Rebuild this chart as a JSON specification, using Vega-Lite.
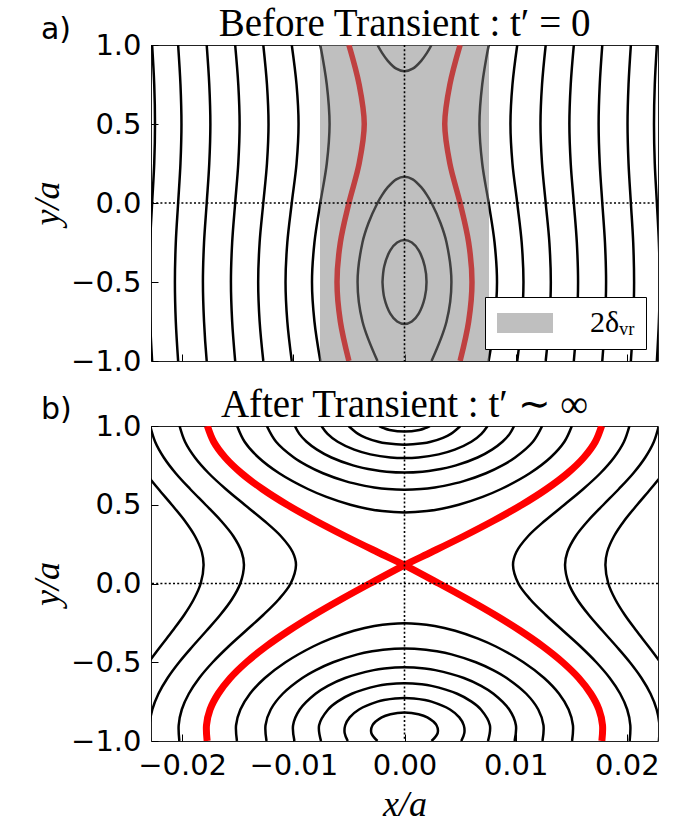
{
"$schema": "https://vega.github.io/schema/vega-lite/v6.json",
"padding": {"left": 29, "right": 10, "top": 4, "bottom": 2},
"spacing": 8,
"resolve": {"scale": {"fill": "independent"}, "legend": {"fill": "independent"}},
"config": {
 "view": {"stroke": "#222", "strokeWidth": 1},
 "axis": {"domain": false, "grid": false, "labelFont": "DejaVu Sans", "labelFontSize": 29, "labelColor": "black", "labelFlush": false, "labelOverlap": false, "tickColor": "black", "tickSize": -7, "tickWidth": 1, "labelPadding": 17, "titleFont": "Liberation Serif", "titleFontSize": 36, "titleFontStyle": "italic", "titleFontWeight": "normal", "titleColor": "black", "titlePadding": 4}
},
"datasets": {
"tk": [
{"g":"7l","x":-0.00757,"y":1},{"g":"7l","x":-0.00699,"y":0.75},{"g":"7l","x":-0.00674,"y":0.5},{"g":"7l","x":-0.00699,"y":0.25},{"g":"7l","x":-0.00757,"y":0},{"g":"7l","x":-0.0081,"y":-0.25},{"g":"7l","x":-0.00832,"y":-0.5},{"g":"7l","x":-0.0081,"y":-0.75},{"g":"7l","x":-0.00757,"y":-1},
{"g":"7r","x":0.00757,"y":1},{"g":"7r","x":0.00699,"y":0.75},{"g":"7r","x":0.00674,"y":0.5},{"g":"7r","x":0.00699,"y":0.25},{"g":"7r","x":0.00757,"y":0},{"g":"7r","x":0.0081,"y":-0.25},{"g":"7r","x":0.00832,"y":-0.5},{"g":"7r","x":0.0081,"y":-0.75},{"g":"7r","x":0.00757,"y":-1},
{"g":"6l","x":-0.01014,"y":1},{"g":"6l","x":-0.00971,"y":0.75},{"g":"6l","x":-0.00953,"y":0.5},{"g":"6l","x":-0.00971,"y":0.25},{"g":"6l","x":-0.01014,"y":0},{"g":"6l","x":-0.01054,"y":-0.25},{"g":"6l","x":-0.0107,"y":-0.5},{"g":"6l","x":-0.01054,"y":-0.75},{"g":"6l","x":-0.01014,"y":-1},
{"g":"6r","x":0.01014,"y":1},{"g":"6r","x":0.00971,"y":0.75},{"g":"6r","x":0.00953,"y":0.5},{"g":"6r","x":0.00971,"y":0.25},{"g":"6r","x":0.01014,"y":0},{"g":"6r","x":0.01054,"y":-0.25},{"g":"6r","x":0.0107,"y":-0.5},{"g":"6r","x":0.01054,"y":-0.75},{"g":"6r","x":0.01014,"y":-1},
{"g":"5l","x":-0.0127,"y":1},{"g":"5l","x":-0.01237,"y":0.75},{"g":"5l","x":-0.01223,"y":0.5},{"g":"5l","x":-0.01237,"y":0.25},{"g":"5l","x":-0.0127,"y":0},{"g":"5l","x":-0.01303,"y":-0.25},{"g":"5l","x":-0.01316,"y":-0.5},{"g":"5l","x":-0.01303,"y":-0.75},{"g":"5l","x":-0.0127,"y":-1},
{"g":"5r","x":0.0127,"y":1},{"g":"5r","x":0.01237,"y":0.75},{"g":"5r","x":0.01223,"y":0.5},{"g":"5r","x":0.01237,"y":0.25},{"g":"5r","x":0.0127,"y":0},{"g":"5r","x":0.01303,"y":-0.25},{"g":"5r","x":0.01316,"y":-0.5},{"g":"5r","x":0.01303,"y":-0.75},{"g":"5r","x":0.0127,"y":-1},
{"g":"4l","x":-0.01523,"y":1},{"g":"4l","x":-0.01495,"y":0.75},{"g":"4l","x":-0.01483,"y":0.5},{"g":"4l","x":-0.01495,"y":0.25},{"g":"4l","x":-0.01523,"y":0},{"g":"4l","x":-0.0155,"y":-0.25},{"g":"4l","x":-0.01561,"y":-0.5},{"g":"4l","x":-0.0155,"y":-0.75},{"g":"4l","x":-0.01523,"y":-1},
{"g":"4r","x":0.01523,"y":1},{"g":"4r","x":0.01495,"y":0.75},{"g":"4r","x":0.01483,"y":0.5},{"g":"4r","x":0.01495,"y":0.25},{"g":"4r","x":0.01523,"y":0},{"g":"4r","x":0.0155,"y":-0.25},{"g":"4r","x":0.01561,"y":-0.5},{"g":"4r","x":0.0155,"y":-0.75},{"g":"4r","x":0.01523,"y":-1},
{"g":"3l","x":-0.01779,"y":1},{"g":"3l","x":-0.01756,"y":0.75},{"g":"3l","x":-0.01746,"y":0.5},{"g":"3l","x":-0.01756,"y":0.25},{"g":"3l","x":-0.01779,"y":0},{"g":"3l","x":-0.01803,"y":-0.25},{"g":"3l","x":-0.01813,"y":-0.5},{"g":"3l","x":-0.01803,"y":-0.75},{"g":"3l","x":-0.01779,"y":-1},
{"g":"3r","x":0.01779,"y":1},{"g":"3r","x":0.01756,"y":0.75},{"g":"3r","x":0.01746,"y":0.5},{"g":"3r","x":0.01756,"y":0.25},{"g":"3r","x":0.01779,"y":0},{"g":"3r","x":0.01803,"y":-0.25},{"g":"3r","x":0.01813,"y":-0.5},{"g":"3r","x":0.01803,"y":-0.75},{"g":"3r","x":0.01779,"y":-1},
{"g":"2l","x":-0.02036,"y":1},{"g":"2l","x":-0.02015,"y":0.75},{"g":"2l","x":-0.02006,"y":0.5},{"g":"2l","x":-0.02015,"y":0.25},{"g":"2l","x":-0.02036,"y":0},{"g":"2l","x":-0.02057,"y":-0.25},{"g":"2l","x":-0.02065,"y":-0.5},{"g":"2l","x":-0.02057,"y":-0.75},{"g":"2l","x":-0.02036,"y":-1},
{"g":"2r","x":0.02036,"y":1},{"g":"2r","x":0.02015,"y":0.75},{"g":"2r","x":0.02006,"y":0.5},{"g":"2r","x":0.02015,"y":0.25},{"g":"2r","x":0.02036,"y":0},{"g":"2r","x":0.02057,"y":-0.25},{"g":"2r","x":0.02065,"y":-0.5},{"g":"2r","x":0.02057,"y":-0.75},{"g":"2r","x":0.02036,"y":-1},
{"g":"1l","x":-0.0227,"y":1},{"g":"1l","x":-0.02251,"y":0.75},{"g":"1l","x":-0.02244,"y":0.5},{"g":"1l","x":-0.02251,"y":0.25},{"g":"1l","x":-0.0227,"y":0},{"g":"1l","x":-0.02288,"y":-0.25},{"g":"1l","x":-0.02296,"y":-0.5},{"g":"1l","x":-0.02288,"y":-0.75},{"g":"1l","x":-0.0227,"y":-1},
{"g":"1r","x":0.0227,"y":1},{"g":"1r","x":0.02251,"y":0.75},{"g":"1r","x":0.02244,"y":0.5},{"g":"1r","x":0.02251,"y":0.25},{"g":"1r","x":0.0227,"y":0},{"g":"1r","x":0.02288,"y":-0.25},{"g":"1r","x":0.02296,"y":-0.5},{"g":"1r","x":0.02288,"y":-0.75},{"g":"1r","x":0.0227,"y":-1},
{"g":"i1","x":-0.00243,"y":-1},{"g":"i1","x":-0.00378,"y":-0.75},{"g":"i1","x":-0.00422,"y":-0.5},{"g":"i1","x":-0.00378,"y":-0.25},{"g":"i1","x":-0.00323,"y":-0.125},{"g":"i1","x":-0.00243,"y":0},{"g":"i1","x":-0.00202,"y":0.05},{"g":"i1","x":-0.0015,"y":0.1},{"g":"i1","x":-0.00074,"y":0.15},{"g":"i1","x":0,"y":0.1667},{"g":"i1","x":0.00074,"y":0.15},{"g":"i1","x":0.0015,"y":0.1},{"g":"i1","x":0.00202,"y":0.05},{"g":"i1","x":0.00243,"y":0},{"g":"i1","x":0.00323,"y":-0.125},{"g":"i1","x":0.00378,"y":-0.25},{"g":"i1","x":0.00422,"y":-0.5},{"g":"i1","x":0.00378,"y":-0.75},{"g":"i1","x":0.00243,"y":-1},
{"g":"i2","x":-0.00243,"y":1},{"g":"i2","x":-0.00202,"y":0.95},{"g":"i2","x":-0.0015,"y":0.9},{"g":"i2","x":-0.00074,"y":0.85},{"g":"i2","x":0,"y":0.8333},{"g":"i2","x":0.00074,"y":0.85},{"g":"i2","x":0.0015,"y":0.9},{"g":"i2","x":0.00202,"y":0.95},{"g":"i2","x":0.00243,"y":1},
{"g":"i3","x":-0.00198,"y":-0.5},{"g":"i3","x":-0.00182,"y":-0.6},{"g":"i3","x":-0.00128,"y":-0.7},{"g":"i3","x":-0.00066,"y":-0.75},{"g":"i3","x":0,"y":-0.766},{"g":"i3","x":0.00066,"y":-0.75},{"g":"i3","x":0.00128,"y":-0.7},{"g":"i3","x":0.00182,"y":-0.6},{"g":"i3","x":0.00198,"y":-0.5},{"g":"i3","x":0.00182,"y":-0.4},{"g":"i3","x":0.00128,"y":-0.3},{"g":"i3","x":0.00066,"y":-0.25},{"g":"i3","x":0,"y":-0.234},{"g":"i3","x":-0.00066,"y":-0.25},{"g":"i3","x":-0.00128,"y":-0.3},{"g":"i3","x":-0.00182,"y":-0.4},{"g":"i3","x":-0.00198,"y":-0.5}
],
"tr": [
{"g":"rl","x":-0.005,"y":1},{"g":"rl","x":-0.00408,"y":0.75},{"g":"rl","x":-0.00362,"y":0.5},{"g":"rl","x":-0.00408,"y":0.25},{"g":"rl","x":-0.005,"y":0},{"g":"rl","x":-0.00577,"y":-0.25},{"g":"rl","x":-0.00607,"y":-0.5},{"g":"rl","x":-0.00577,"y":-0.75},{"g":"rl","x":-0.005,"y":-1},
{"g":"rr","x":0.005,"y":1},{"g":"rr","x":0.00408,"y":0.75},{"g":"rr","x":0.00362,"y":0.5},{"g":"rr","x":0.00408,"y":0.25},{"g":"rr","x":0.005,"y":0},{"g":"rr","x":0.00577,"y":-0.25},{"g":"rr","x":0.00607,"y":-0.5},{"g":"rr","x":0.00577,"y":-0.75},{"g":"rr","x":0.005,"y":-1}
],
"bk": [
{"g":"t1","x":-0.01505,"y":1},{"g":"t1","x":-0.01438,"y":0.9},{"g":"t1","x":-0.01313,"y":0.8},{"g":"t1","x":-0.01127,"y":0.7},{"g":"t1","x":-0.00869,"y":0.6},{"g":"t1","x":-0.00702,"y":0.55},{"g":"t1","x":-0.00487,"y":0.5},{"g":"t1","x":-0.00335,"y":0.475},{"g":"t1","x":-0.00201,"y":0.46},{"g":"t1","x":0,"y":0.4515},{"g":"t1","x":0.00201,"y":0.46},{"g":"t1","x":0.00335,"y":0.475},{"g":"t1","x":0.00487,"y":0.5},{"g":"t1","x":0.00702,"y":0.55},{"g":"t1","x":0.00869,"y":0.6},{"g":"t1","x":0.01127,"y":0.7},{"g":"t1","x":0.01313,"y":0.8},{"g":"t1","x":0.01438,"y":0.9},{"g":"t1","x":0.01505,"y":1},
{"g":"t2","x":-0.01238,"y":1},{"g":"t2","x":-0.01155,"y":0.9},{"g":"t2","x":-0.00995,"y":0.8},{"g":"t2","x":-0.0088,"y":0.75},{"g":"t2","x":-0.00733,"y":0.7},{"g":"t2","x":-0.00532,"y":0.65},{"g":"t2","x":-0.00356,"y":0.62},{"g":"t2","x":-0.00273,"y":0.61},{"g":"t2","x":-0.00148,"y":0.6},{"g":"t2","x":0,"y":0.5958},{"g":"t2","x":0.00148,"y":0.6},{"g":"t2","x":0.00273,"y":0.61},{"g":"t2","x":0.00356,"y":0.62},{"g":"t2","x":0.00532,"y":0.65},{"g":"t2","x":0.00733,"y":0.7},{"g":"t2","x":0.0088,"y":0.75},{"g":"t2","x":0.00995,"y":0.8},{"g":"t2","x":0.01155,"y":0.9},{"g":"t2","x":0.01238,"y":1},
{"g":"t3","x":-0.00986,"y":1},{"g":"t3","x":-0.00946,"y":0.95},{"g":"t3","x":-0.00881,"y":0.9},{"g":"t3","x":-0.00787,"y":0.85},{"g":"t3","x":-0.00657,"y":0.8},{"g":"t3","x":-0.00463,"y":0.75},{"g":"t3","x":-0.00272,"y":0.72},{"g":"t3","x":-0.00161,"y":0.71},{"g":"t3","x":0,"y":0.7047},{"g":"t3","x":0.00161,"y":0.71},{"g":"t3","x":0.00272,"y":0.72},{"g":"t3","x":0.00463,"y":0.75},{"g":"t3","x":0.00657,"y":0.8},{"g":"t3","x":0.00787,"y":0.85},{"g":"t3","x":0.00881,"y":0.9},{"g":"t3","x":0.00946,"y":0.95},{"g":"t3","x":0.00986,"y":1},
{"g":"t4","x":-0.00747,"y":1},{"g":"t4","x":-0.00692,"y":0.95},{"g":"t4","x":-0.00601,"y":0.9},{"g":"t4","x":-0.00452,"y":0.85},{"g":"t4","x":-0.00307,"y":0.82},{"g":"t4","x":-0.00125,"y":0.8},{"g":"t4","x":0,"y":0.7962},{"g":"t4","x":0.00125,"y":0.8},{"g":"t4","x":0.00307,"y":0.82},{"g":"t4","x":0.00452,"y":0.85},{"g":"t4","x":0.00601,"y":0.9},{"g":"t4","x":0.00692,"y":0.95},{"g":"t4","x":0.00747,"y":1},
{"g":"t5","x":-0.00503,"y":1},{"g":"t5","x":-0.00417,"y":0.95},{"g":"t5","x":-0.00346,"y":0.925},{"g":"t5","x":-0.00236,"y":0.9},{"g":"t5","x":-0.00163,"y":0.89},{"g":"t5","x":0,"y":0.881},{"g":"t5","x":0.00163,"y":0.89},{"g":"t5","x":0.00236,"y":0.9},{"g":"t5","x":0.00346,"y":0.925},{"g":"t5","x":0.00417,"y":0.95},{"g":"t5","x":0.00503,"y":1},
{"g":"t6","x":-0.00228,"y":1},{"g":"t6","x":-0.0018,"y":0.985},{"g":"t6","x":-0.00134,"y":0.975},{"g":"t6","x":0,"y":0.9643},{"g":"t6","x":0.00134,"y":0.975},{"g":"t6","x":0.0018,"y":0.985},{"g":"t6","x":0.00228,"y":1},
{"g":"b1","x":-0.01507,"y":-1},{"g":"b1","x":-0.01515,"y":-0.9},{"g":"b1","x":-0.01476,"y":-0.8},{"g":"b1","x":-0.0139,"y":-0.7},{"g":"b1","x":-0.01256,"y":-0.6},{"g":"b1","x":-0.0107,"y":-0.5},{"g":"b1","x":-0.00822,"y":-0.4},{"g":"b1","x":-0.00662,"y":-0.35},{"g":"b1","x":-0.00456,"y":-0.3},{"g":"b1","x":-0.00272,"y":-0.27},{"g":"b1","x":0,"y":-0.2527},{"g":"b1","x":0.00272,"y":-0.27},{"g":"b1","x":0.00456,"y":-0.3},{"g":"b1","x":0.00662,"y":-0.35},{"g":"b1","x":0.00822,"y":-0.4},{"g":"b1","x":0.0107,"y":-0.5},{"g":"b1","x":0.01256,"y":-0.6},{"g":"b1","x":0.0139,"y":-0.7},{"g":"b1","x":0.01476,"y":-0.8},{"g":"b1","x":0.01515,"y":-0.9},{"g":"b1","x":0.01507,"y":-1},
{"g":"b2","x":-0.01241,"y":-1},{"g":"b2","x":-0.0125,"y":-0.9},{"g":"b2","x":-0.01203,"y":-0.8},{"g":"b2","x":-0.01095,"y":-0.7},{"g":"b2","x":-0.00919,"y":-0.6},{"g":"b2","x":-0.00797,"y":-0.55},{"g":"b2","x":-0.00642,"y":-0.5},{"g":"b2","x":-0.00423,"y":-0.45},{"g":"b2","x":-0.00291,"y":-0.43},{"g":"b2","x":-0.00193,"y":-0.42},{"g":"b2","x":0,"y":-0.4122},{"g":"b2","x":0.00193,"y":-0.42},{"g":"b2","x":0.00291,"y":-0.43},{"g":"b2","x":0.00423,"y":-0.45},{"g":"b2","x":0.00642,"y":-0.5},{"g":"b2","x":0.00797,"y":-0.55},{"g":"b2","x":0.00919,"y":-0.6},{"g":"b2","x":0.01095,"y":-0.7},{"g":"b2","x":0.01203,"y":-0.8},{"g":"b2","x":0.0125,"y":-0.9},{"g":"b2","x":0.01241,"y":-1},
{"g":"b3","x":-0.0099,"y":-1},{"g":"b3","x":-0.01002,"y":-0.9},{"g":"b3","x":-0.00942,"y":-0.8},{"g":"b3","x":-0.008,"y":-0.7},{"g":"b3","x":-0.00689,"y":-0.65},{"g":"b3","x":-0.00534,"y":-0.6},{"g":"b3","x":-0.00277,"y":-0.55},{"g":"b3","x":-0.00182,"y":-0.54},{"g":"b3","x":0,"y":-0.5325},{"g":"b3","x":0.00182,"y":-0.54},{"g":"b3","x":0.00277,"y":-0.55},{"g":"b3","x":0.00534,"y":-0.6},{"g":"b3","x":0.00689,"y":-0.65},{"g":"b3","x":0.008,"y":-0.7},{"g":"b3","x":0.00942,"y":-0.8},{"g":"b3","x":0.01002,"y":-0.9},{"g":"b3","x":0.0099,"y":-1},
{"g":"b4","x":-0.00751,"y":-1},{"g":"b4","x":-0.00768,"y":-0.9},{"g":"b4","x":-0.00687,"y":-0.8},{"g":"b4","x":-0.00603,"y":-0.75},{"g":"b4","x":-0.00474,"y":-0.7},{"g":"b4","x":-0.00244,"y":-0.65},{"g":"b4","x":-0.00153,"y":-0.64},{"g":"b4","x":0,"y":-0.6337},{"g":"b4","x":0.00153,"y":-0.64},{"g":"b4","x":0.00244,"y":-0.65},{"g":"b4","x":0.00474,"y":-0.7},{"g":"b4","x":0.00603,"y":-0.75},{"g":"b4","x":0.00687,"y":-0.8},{"g":"b4","x":0.00768,"y":-0.9},{"g":"b4","x":0.00751,"y":-1},
{"g":"b5","x":-0.0051,"y":-1},{"g":"b5","x":-0.00538,"y":-0.95},{"g":"b5","x":-0.00533,"y":-0.9},{"g":"b5","x":-0.00493,"y":-0.85},{"g":"b5","x":-0.00409,"y":-0.8},{"g":"b5","x":-0.00243,"y":-0.75},{"g":"b5","x":-0.00184,"y":-0.74},{"g":"b5","x":0,"y":-0.7274},{"g":"b5","x":0.00184,"y":-0.74},{"g":"b5","x":0.00243,"y":-0.75},{"g":"b5","x":0.00409,"y":-0.8},{"g":"b5","x":0.00493,"y":-0.85},{"g":"b5","x":0.00533,"y":-0.9},{"g":"b5","x":0.00538,"y":-0.95},{"g":"b5","x":0.0051,"y":-1},
{"g":"b6","x":-0.00243,"y":-1},{"g":"b6","x":-0.00298,"y":-0.95},{"g":"b6","x":-0.00288,"y":-0.9},{"g":"b6","x":-0.00205,"y":-0.85},{"g":"b6","x":-0.00126,"y":-0.83},{"g":"b6","x":0,"y":-0.8195},{"g":"b6","x":0.00126,"y":-0.83},{"g":"b6","x":0.00205,"y":-0.85},{"g":"b6","x":0.00288,"y":-0.9},{"g":"b6","x":0.00298,"y":-0.95},{"g":"b6","x":0.00243,"y":-1},
{"g":"o1l","x":-0.02023,"y":1},{"g":"o1l","x":-0.01974,"y":0.9},{"g":"o1l","x":-0.01885,"y":0.8},{"g":"o1l","x":-0.01761,"y":0.7},{"g":"o1l","x":-0.01608,"y":0.6},{"g":"o1l","x":-0.01438,"y":0.5},{"g":"o1l","x":-0.01265,"y":0.4},{"g":"o1l","x":-0.01111,"y":0.3},{"g":"o1l","x":-0.01006,"y":0.2},{"g":"o1l","x":-0.00976,"y":0.117},{"g":"o1l","x":-0.01024,"y":0},{"g":"o1l","x":-0.0113,"y":-0.1},{"g":"o1l","x":-0.01271,"y":-0.2},{"g":"o1l","x":-0.01427,"y":-0.3},{"g":"o1l","x":-0.01583,"y":-0.4},{"g":"o1l","x":-0.01725,"y":-0.5},{"g":"o1l","x":-0.01846,"y":-0.6},{"g":"o1l","x":-0.0194,"y":-0.7},{"g":"o1l","x":-0.02003,"y":-0.8},{"g":"o1l","x":-0.02031,"y":-0.9},{"g":"o1l","x":-0.02025,"y":-1},
{"g":"o1r","x":0.02023,"y":1},{"g":"o1r","x":0.01974,"y":0.9},{"g":"o1r","x":0.01885,"y":0.8},{"g":"o1r","x":0.01761,"y":0.7},{"g":"o1r","x":0.01608,"y":0.6},{"g":"o1r","x":0.01438,"y":0.5},{"g":"o1r","x":0.01265,"y":0.4},{"g":"o1r","x":0.01111,"y":0.3},{"g":"o1r","x":0.01006,"y":0.2},{"g":"o1r","x":0.00976,"y":0.117},{"g":"o1r","x":0.01024,"y":0},{"g":"o1r","x":0.0113,"y":-0.1},{"g":"o1r","x":0.01271,"y":-0.2},{"g":"o1r","x":0.01427,"y":-0.3},{"g":"o1r","x":0.01583,"y":-0.4},{"g":"o1r","x":0.01725,"y":-0.5},{"g":"o1r","x":0.01846,"y":-0.6},{"g":"o1r","x":0.0194,"y":-0.7},{"g":"o1r","x":0.02003,"y":-0.8},{"g":"o1r","x":0.02031,"y":-0.9},{"g":"o1r","x":0.02025,"y":-1},
{"g":"o2l","x":-0.02287,"y":1},{"g":"o2l","x":-0.02243,"y":0.9},{"g":"o2l","x":-0.02165,"y":0.8},{"g":"o2l","x":-0.02058,"y":0.7},{"g":"o2l","x":-0.01928,"y":0.6},{"g":"o2l","x":-0.01789,"y":0.5},{"g":"o2l","x":-0.01653,"y":0.4},{"g":"o2l","x":-0.01539,"y":0.3},{"g":"o2l","x":-0.01465,"y":0.2},{"g":"o2l","x":-0.01444,"y":0.117},{"g":"o2l","x":-0.01477,"y":0},{"g":"o2l","x":-0.01552,"y":-0.1},{"g":"o2l","x":-0.01658,"y":-0.2},{"g":"o2l","x":-0.01781,"y":-0.3},{"g":"o2l","x":-0.01907,"y":-0.4},{"g":"o2l","x":-0.02027,"y":-0.5},{"g":"o2l","x":-0.02131,"y":-0.6},{"g":"o2l","x":-0.02213,"y":-0.7},{"g":"o2l","x":-0.02268,"y":-0.8},{"g":"o2l","x":-0.02293,"y":-0.9},{"g":"o2l","x":-0.02288,"y":-1},
{"g":"o2r","x":0.02287,"y":1},{"g":"o2r","x":0.02243,"y":0.9},{"g":"o2r","x":0.02165,"y":0.8},{"g":"o2r","x":0.02058,"y":0.7},{"g":"o2r","x":0.01928,"y":0.6},{"g":"o2r","x":0.01789,"y":0.5},{"g":"o2r","x":0.01653,"y":0.4},{"g":"o2r","x":0.01539,"y":0.3},{"g":"o2r","x":0.01465,"y":0.2},{"g":"o2r","x":0.01444,"y":0.117},{"g":"o2r","x":0.01477,"y":0},{"g":"o2r","x":0.01552,"y":-0.1},{"g":"o2r","x":0.01658,"y":-0.2},{"g":"o2r","x":0.01781,"y":-0.3},{"g":"o2r","x":0.01907,"y":-0.4},{"g":"o2r","x":0.02027,"y":-0.5},{"g":"o2r","x":0.02131,"y":-0.6},{"g":"o2r","x":0.02213,"y":-0.7},{"g":"o2r","x":0.02268,"y":-0.8},{"g":"o2r","x":0.02293,"y":-0.9},{"g":"o2r","x":0.02288,"y":-1},
{"g":"o3l","x":-0.02422,"y":0.8},{"g":"o3l","x":-0.02327,"y":0.7},{"g":"o3l","x":-0.02213,"y":0.6},{"g":"o3l","x":-0.02093,"y":0.5},{"g":"o3l","x":-0.01978,"y":0.4},{"g":"o3l","x":-0.01884,"y":0.3},{"g":"o3l","x":-0.01823,"y":0.2},{"g":"o3l","x":-0.01807,"y":0.117},{"g":"o3l","x":-0.01833,"y":0},{"g":"o3l","x":-0.01895,"y":-0.1},{"g":"o3l","x":-0.01982,"y":-0.2},{"g":"o3l","x":-0.02086,"y":-0.3},{"g":"o3l","x":-0.02195,"y":-0.4},{"g":"o3l","x":-0.023,"y":-0.5},{"g":"o3l","x":-0.02392,"y":-0.6},
{"g":"o3r","x":0.02422,"y":0.8},{"g":"o3r","x":0.02327,"y":0.7},{"g":"o3r","x":0.02213,"y":0.6},{"g":"o3r","x":0.02093,"y":0.5},{"g":"o3r","x":0.01978,"y":0.4},{"g":"o3r","x":0.01884,"y":0.3},{"g":"o3r","x":0.01823,"y":0.2},{"g":"o3r","x":0.01807,"y":0.117},{"g":"o3r","x":0.01833,"y":0},{"g":"o3r","x":0.01895,"y":-0.1},{"g":"o3r","x":0.01982,"y":-0.2},{"g":"o3r","x":0.02086,"y":-0.3},{"g":"o3r","x":0.02195,"y":-0.4},{"g":"o3r","x":0.023,"y":-0.5},{"g":"o3r","x":0.02392,"y":-0.6}
],
"br": [
{"g":"R1","x":-0.01773,"y":1},{"g":"R1","x":-0.01716,"y":0.9},{"g":"R1","x":-0.01613,"y":0.8},{"g":"R1","x":-0.01466,"y":0.7},{"g":"R1","x":-0.01278,"y":0.6},{"g":"R1","x":-0.01056,"y":0.5},{"g":"R1","x":-0.00804,"y":0.4},{"g":"R1","x":-0.00532,"y":0.3},{"g":"R1","x":-0.00244,"y":0.2},{"g":"R1","x":0,"y":0.117},{"g":"R1","x":0.00311,"y":0},{"g":"R1","x":0.00569,"y":-0.1},{"g":"R1","x":0.00815,"y":-0.2},{"g":"R1","x":0.01042,"y":-0.3},{"g":"R1","x":0.01246,"y":-0.4},{"g":"R1","x":0.01422,"y":-0.5},{"g":"R1","x":0.01567,"y":-0.6},{"g":"R1","x":0.01676,"y":-0.7},{"g":"R1","x":0.01749,"y":-0.8},{"g":"R1","x":0.01781,"y":-0.9},{"g":"R1","x":0.01775,"y":-1},
{"g":"R2","x":0.01773,"y":1},{"g":"R2","x":0.01716,"y":0.9},{"g":"R2","x":0.01613,"y":0.8},{"g":"R2","x":0.01466,"y":0.7},{"g":"R2","x":0.01278,"y":0.6},{"g":"R2","x":0.01056,"y":0.5},{"g":"R2","x":0.00804,"y":0.4},{"g":"R2","x":0.00532,"y":0.3},{"g":"R2","x":0.00244,"y":0.2},{"g":"R2","x":0,"y":0.117},{"g":"R2","x":-0.00311,"y":0},{"g":"R2","x":-0.00569,"y":-0.1},{"g":"R2","x":-0.00815,"y":-0.2},{"g":"R2","x":-0.01042,"y":-0.3},{"g":"R2","x":-0.01246,"y":-0.4},{"g":"R2","x":-0.01422,"y":-0.5},{"g":"R2","x":-0.01567,"y":-0.6},{"g":"R2","x":-0.01676,"y":-0.7},{"g":"R2","x":-0.01749,"y":-0.8},{"g":"R2","x":-0.01781,"y":-0.9},{"g":"R2","x":-0.01775,"y":-1}
]
},
"vconcat": [
{
 "width": 507, "height": 316,
 "layer": [
  {"data": {"name": "tk"}, "mark": {"type": "line", "interpolate": "catmull-rom", "clip": true, "color": "black", "strokeWidth": 2.5},
   "encoding": {
    "x": {"field": "x", "type": "quantitative", "scale": {"domain": [-0.0228, 0.0228], "nice": false, "zero": false}, "axis": {"values": [-0.02, -0.01, 0, 0.01, 0.02], "labels": false, "title": null}},
    "y": {"field": "y", "type": "quantitative", "scale": {"domain": [-1, 1], "nice": false, "zero": false}, "axis": {"values": [-1, -0.5, 0, 0.5, 1], "format": ".1f", "title": "y/a"}},
    "detail": {"field": "g", "type": "nominal"}, "order": {"value": null}}},
  {"data": {"name": "tr"}, "mark": {"type": "line", "interpolate": "catmull-rom", "clip": true, "color": "#ff0000", "strokeWidth": 5.5},
   "encoding": {
    "x": {"field": "x", "type": "quantitative", "axis": {"values": [-0.02, -0.01, 0, 0.01, 0.02], "labels": false, "title": null}},
    "y": {"field": "y", "type": "quantitative", "axis": {"values": [-1, -0.5, 0, 0.5, 1], "format": ".1f", "title": "y/a"}},
    "detail": {"field": "g", "type": "nominal"}, "order": {"value": null}}},
  {"data": {"values": [{"x": -0.0076, "xe": 0.0076, "y": -1, "ye": 1, "lab": "2δᵥᵣ"}]}, "mark": {"type": "rect", "fillOpacity": 0.5},
   "encoding": {
    "x": {"field": "x", "type": "quantitative", "axis": {"values": [-0.02, -0.01, 0, 0.01, 0.02], "labels": false, "title": null}},
    "x2": {"field": "xe"},
    "y": {"field": "y", "type": "quantitative", "axis": {"values": [-1, -0.5, 0, 0.5, 1], "format": ".1f", "title": "y/a"}},
    "y2": {"field": "ye"},
    "fill": {"field": "lab", "type": "nominal", "scale": {"range": ["#808080"]},
      "legend": {"title": null, "orient": "bottom-right", "offset": 12, "symbolType": "M-2,-0.714H2V0.714H-2Z", "symbolSize": 784, "symbolOffset": 14, "symbolOpacity": 0.5, "symbolStrokeWidth": 0, "labelFont": "Liberation Serif", "labelFontSize": 30, "labelColor": "black", "labelOffset": 50, "padding": 11, "strokeColor": "black", "fillColor": "white", "cornerRadius": 0}}}},
  {"data": {"values": [{}]}, "mark": {"type": "rule", "color": "black", "strokeWidth": 1.6, "strokeDash": [2, 2.2]}, "encoding": {"x": {"datum": 0, "type": "quantitative"}}},
  {"data": {"values": [{}]}, "mark": {"type": "rule", "color": "black", "strokeWidth": 1.6, "strokeDash": [2, 2.2]}, "encoding": {"y": {"datum": 0, "type": "quantitative"}}},
  {"data": {"values": [{}]}, "mark": {"type": "text", "align": "left", "baseline": "alphabetic", "font": "DejaVu Sans", "fontSize": 30, "color": "black"}, "encoding": {"x": {"datum": -0.0327, "type": "quantitative"}, "y": {"datum": 1.038, "type": "quantitative"}, "text": {"value": "a)"}}},
  {"data": {"values": [{}]}, "mark": {"type": "text", "align": "center", "baseline": "alphabetic", "font": "Liberation Serif", "fontSize": 39, "color": "black"}, "encoding": {"x": {"datum": 0, "type": "quantitative"}, "y": {"datum": 1.055, "type": "quantitative"}, "text": {"value": "Before Transient :  t′ = 0"}}}
 ]
},
{
 "width": 507, "height": 315,
 "layer": [
  {"data": {"name": "bk"}, "mark": {"type": "line", "interpolate": "catmull-rom", "clip": true, "color": "black", "strokeWidth": 2.5},
   "encoding": {
    "x": {"field": "x", "type": "quantitative", "scale": {"domain": [-0.0228, 0.0228], "nice": false, "zero": false}, "axis": {"values": [-0.02, -0.01, 0, 0.01, 0.02], "format": ".2f", "title": "x/a", "titlePadding": 7}},
    "y": {"field": "y", "type": "quantitative", "scale": {"domain": [-1, 1], "nice": false, "zero": false}, "axis": {"values": [-1, -0.5, 0, 0.5, 1], "format": ".1f", "title": "y/a"}},
    "detail": {"field": "g", "type": "nominal"}, "order": {"value": null}}},
  {"data": {"name": "br"}, "mark": {"type": "line", "interpolate": "catmull-rom", "clip": true, "color": "#ff0000", "strokeWidth": 7},
   "encoding": {
    "x": {"field": "x", "type": "quantitative", "axis": {"values": [-0.02, -0.01, 0, 0.01, 0.02], "format": ".2f", "title": "x/a", "titlePadding": 7}},
    "y": {"field": "y", "type": "quantitative", "axis": {"values": [-1, -0.5, 0, 0.5, 1], "format": ".1f", "title": "y/a"}},
    "detail": {"field": "g", "type": "nominal"}, "order": {"value": null}}},
  {"data": {"values": [{}]}, "mark": {"type": "rule", "color": "black", "strokeWidth": 1.6, "strokeDash": [2, 2.2]}, "encoding": {"x": {"datum": 0, "type": "quantitative"}}},
  {"data": {"values": [{}]}, "mark": {"type": "rule", "color": "black", "strokeWidth": 1.6, "strokeDash": [2, 2.2]}, "encoding": {"y": {"datum": 0, "type": "quantitative"}}},
  {"data": {"values": [{}]}, "mark": {"type": "text", "align": "left", "baseline": "alphabetic", "font": "DejaVu Sans", "fontSize": 30, "color": "black"}, "encoding": {"x": {"datum": -0.0327, "type": "quantitative"}, "y": {"datum": 1.045, "type": "quantitative"}, "text": {"value": "b)"}}},
  {"data": {"values": [{}]}, "mark": {"type": "text", "align": "center", "baseline": "alphabetic", "font": "Liberation Serif", "fontSize": 39, "color": "black"}, "encoding": {"x": {"datum": 0, "type": "quantitative"}, "y": {"datum": 1.055, "type": "quantitative"}, "text": {"value": "After Transient :  t′ ∼ ∞"}}}
 ]
}
]
}
